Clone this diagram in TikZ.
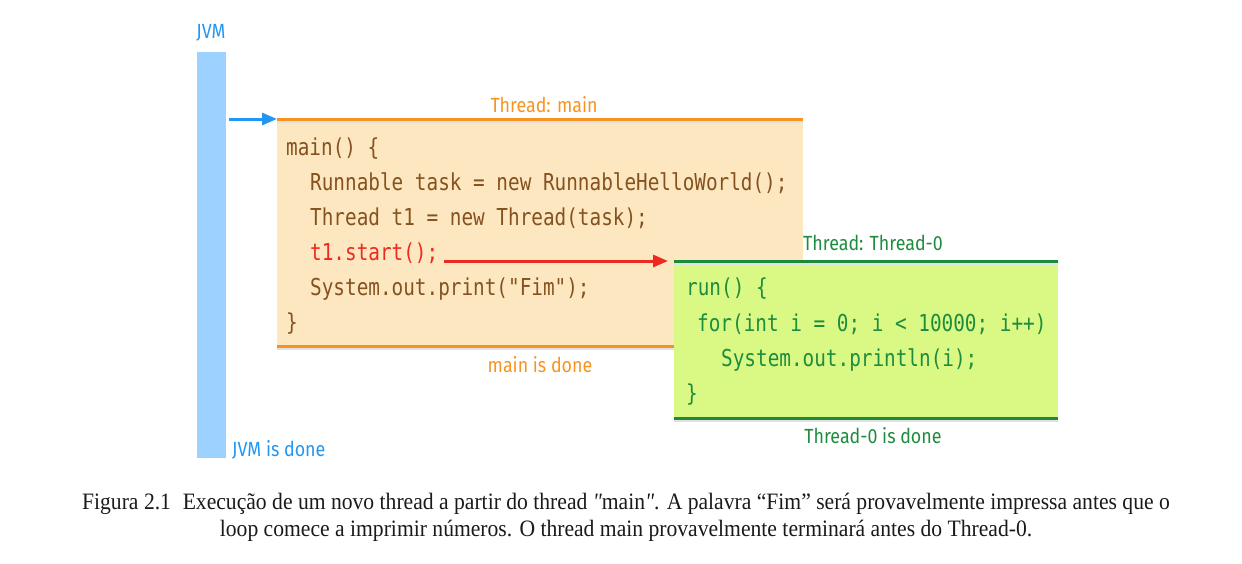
\documentclass[tikz,border=0pt]{standalone}
\usepackage{fontspec}
\usetikzlibrary{arrows.meta}
\newfontfamily\codefont{DejaVu Sans Mono}[FakeStretch=0.83]
\newfontfamily\labfont{Fira Sans}[FakeStretch=0.87]
\newfontfamily\capfont{Liberation Serif}[FakeStretch=0.92]
\definecolor{jvmblue}{HTML}{2196F3}
\definecolor{jvmbar}{HTML}{9DD1FF}
\definecolor{orline}{HTML}{F7931E}
\definecolor{orfill}{HTML}{FDE7C1}
\definecolor{brown}{HTML}{85521F}
\definecolor{redc}{HTML}{EE2A1F}
\definecolor{grline}{HTML}{1B8A3A}
\definecolor{grfill}{HTML}{D9F984}
\definecolor{grtext}{HTML}{1E8C3E}
\definecolor{captext}{HTML}{1A1A1A}
\tikzset{
  code/.style={anchor=base west, inner sep=0, font=\codefont\fontsize{23.3}{28}\selectfont},
  lab/.style={inner sep=0, font=\labfont\fontsize{20.5}{24}\selectfont},
  box/.style={anchor=north west, inner sep=0, draw=none},
  thline/.style={line width=3pt},
  shade line/.style={line width=2pt, black!12},
  arr/.style={line width=3pt, -{Triangle[length=15pt,width=12pt]}},
}
\begin{document}
\begin{tikzpicture}[x=1pt,y=-1pt]
\useasboundingbox (0,0) rectangle (1242,563);
% JVM
\node[lab, text=jvmblue] (jvmlab) at (211,33) {JVM};
\node[box, fill=jvmbar, minimum width=29pt, minimum height=406pt] (jvm) at (197,52) {};
\node[lab, text=jvmblue, anchor=west] (jvmdone) at (232,450) {JVM is done};
% main thread box
\node[box, fill=orfill, minimum width=526pt, minimum height=227pt] (mainbox) at (277,119) {};
\draw[shade line] ([yshift=-2.5pt]mainbox.north west) -- ([yshift=-2.5pt]mainbox.north east);
\draw[shade line] ([yshift=-2.5pt]mainbox.south west) -- ([yshift=-2.5pt]mainbox.south east);
\draw[thline, orline] (mainbox.north west) -- (mainbox.north east);
\draw[thline, orline] (mainbox.south west) -- (mainbox.south east);
\node[lab, text=orline] (mainlab) at (544,105) {Thread: main};
\node[lab, text=orline] (maindone) at (540,365) {main is done};
\coordinate (jvmarr) at (229,119);
\draw[arr, jvmblue] (jvmarr) -- (mainbox.north west);
\node[code, text=brown] (m1) at (286,155) {main() \{};
\node[code, text=brown] (m2) at (310,190) {Runnable task = new RunnableHelloWorld();};
\node[code, text=brown] (m3) at (310,225) {Thread t1 = new Thread(task);};
\node[code, text=redc] (m4) at (310,260) {t1.start();};
\node[code, text=brown] (m5) at (310,295) {System.out.print("Fim");};
\node[code, text=brown] (m6) at (286,330) {\}};
% thread-0 box
\node[box, fill=grfill, minimum width=384pt, minimum height=157pt] (tbox) at (674,261) {};
\draw[shade line] ([yshift=-2.5pt]tbox.north west) -- ([yshift=-2.5pt]tbox.north east);
\draw[shade line] ([yshift=-2.5pt]tbox.south west) -- ([yshift=-2.5pt]tbox.south east);
\draw[thline, grline] (tbox.north west) -- (tbox.north east);
\draw[thline, grline] (tbox.south west) -- (tbox.south east);
\node[lab, text=grtext] (tlab) at (873,243) {Thread: Thread-0};
\node[lab, text=grtext] (tdone) at (873,436) {Thread-0 is done};
\node[code, text=grtext] (t1) at (686,295) {run() \{};
\node[code, text=grtext] (t2) at (697,331) {for(int i = 0; i < 10000; i++)};
\node[code, text=grtext] (t3) at (721,366) {System.out.println(i);};
\node[code, text=grtext] (t4) at (686,401) {\}};
\coordinate (startarr) at (444,261);
\draw[arr, redc] (startarr) -- ([xshift=-6pt]tbox.north west);
% caption
\node[inner sep=0, align=center, text=captext, font=\capfont\fontsize{23.5}{27}\selectfont] (cap) at (626,517)
 {Figura 2.1\enspace Execução de um novo thread a partir do thread {\itshape "}main{\itshape "}. A palavra “Fim” será provavelmente impressa antes que o\\
  loop comece a imprimir números. O thread main provavelmente terminará antes do Thread-0.};
\end{tikzpicture}
\end{document}
